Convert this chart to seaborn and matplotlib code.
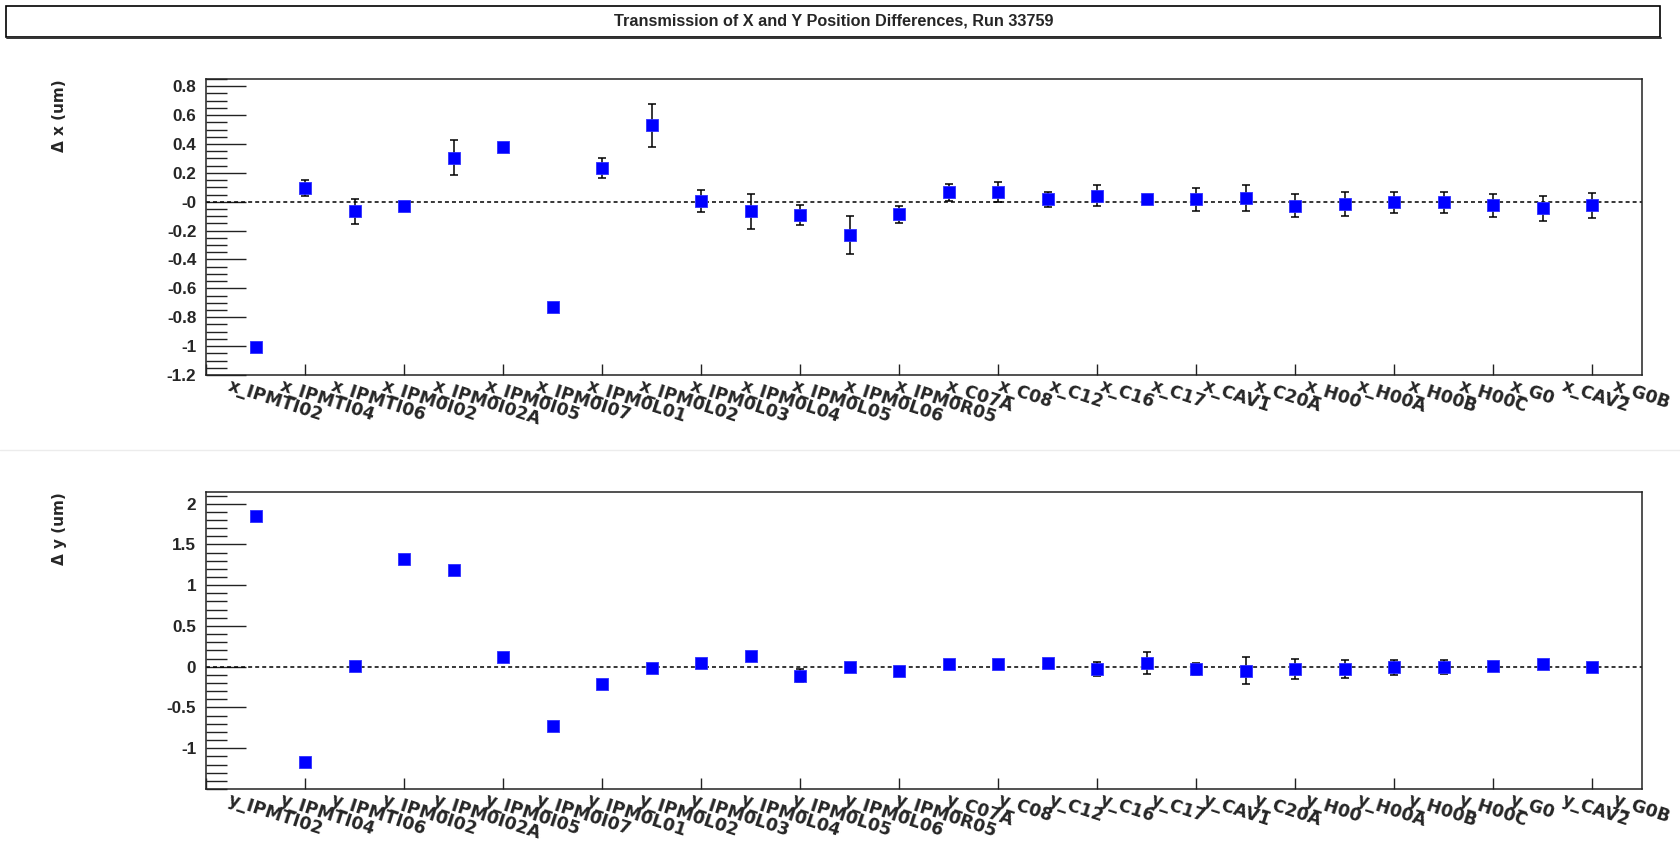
import numpy as np
import pandas as pd
import matplotlib
matplotlib.use("Agg")
import matplotlib.pyplot as plt
import seaborn as sns
from matplotlib.ticker import MultipleLocator, FixedLocator, FuncFormatter
from matplotlib.patches import Rectangle
from matplotlib.lines import Line2D
from matplotlib.transforms import blended_transform_factory

# monitor names (same order for x and y)
names = ["IPMTI02", "IPMTI04", "IPMTI06", "IPM0I02", "IPM0I02A", "IPM0I05", "IPM0I07",
         "IPM0L01", "IPM0L02", "IPM0L03", "IPM0L04", "IPM0L05", "IPM0L06", "IPM0R05",
         "C07A", "C08", "C12", "C16", "C17", "CAV1", "C20A", "H00", "H00A", "H00B",
         "H00C", "G0", "CAV2", "G0B"]

dx = [-1.007, 0.098, -0.067, -0.028, 0.305, 0.378, -0.729, 0.234, 0.529, 0.007,
      -0.067, -0.092, -0.232, -0.087, 0.066, 0.069, 0.016, 0.043, 0.016, 0.016,
      0.027, -0.028, -0.016, -0.005, -0.005, -0.025, -0.046, -0.025]
dx_err = [0.02, 0.055, 0.085, 0.02, 0.12, 0.02, 0.02, 0.07, 0.15, 0.075,
          0.12, 0.068, 0.13, 0.057, 0.06, 0.07, 0.05, 0.07, 0.02, 0.08,
          0.09, 0.08, 0.083, 0.073, 0.07, 0.08, 0.085, 0.085]

dy = [1.848, -1.172, 0.005, 1.317, 1.186, 0.115, -0.731, -0.216, -0.012, 0.045,
      0.135, -0.11, -0.008, -0.049, 0.029, 0.029, 0.045, -0.028, 0.045, -0.028,
      -0.049, -0.028, -0.028, -0.008, -0.008, 0.009, 0.029, -0.008]
dy_err = [0.03, 0.03, 0.03, 0.03, 0.03, 0.03, 0.03, 0.03, 0.03, 0.03,
          0.03, 0.08, 0.03, 0.03, 0.03, 0.03, 0.03, 0.09, 0.14, 0.075,
          0.167, 0.12, 0.11, 0.09, 0.085, 0.03, 0.03, 0.03]

title = "Transmission of X and Y Position Differences, Run 33759"

sns.set_style("white")
plt.rcParams["font.family"] = ["Liberation Sans", "DejaVu Sans"]
plt.rcParams["font.weight"] = "bold"
plt.rcParams["axes.unicode_minus"] = False

W, H = 1681, 843
fig = plt.figure(figsize=(W / 100, H / 100), dpi=100)
fig.patch.set_facecolor("white")


def draw_panel(ax, prefix, vals, errs, ylim, major, minor, ylabel):
    n = len(names)
    df = pd.DataFrame({"pos": np.arange(1, n + 1), "val": vals, "err": errs})

    ax.axhline(0, color="black", lw=1.1, ls=(0, (2.6, 2.0)), zorder=1)
    ax.errorbar(df["pos"], df["val"], yerr=df["err"], fmt="none", ecolor="black",
                elinewidth=1.1, capsize=2.9, capthick=1.1, zorder=2)
    sns.scatterplot(data=df, x="pos", y="val", marker="s", s=78, color="#0000ff",
                    edgecolor="#3030ff", linewidth=0.6, legend=False, ax=ax, zorder=3)

    ax.set_xlim(0, n + 1)
    ax.set_ylim(*ylim)
    ax.set_xlabel("")
    ax.set_ylabel(ylabel, loc="top", fontsize=11, fontweight="bold",
                  family=["DejaVu Sans"])
    ax.yaxis.set_label_coords(-0.097, 1.0)

    for sp in ax.spines.values():
        sp.set_visible(True)
        sp.set_linewidth(1.1)
        sp.set_color("#222222")

    ax.xaxis.set_major_locator(MultipleLocator(2))
    ax.tick_params(axis="x", which="major", direction="in", length=7.7, width=1.0,
                   bottom=True, top=False, labelbottom=False, color="#222222")
    ax.yaxis.set_major_locator(FixedLocator(major))
    ax.yaxis.set_minor_locator(MultipleLocator(minor))
    zero_lbl = "-0" if prefix == "x" else "0"
    ax.yaxis.set_major_formatter(FuncFormatter(
        lambda v, _: zero_lbl if abs(v) < 1e-9 else f"{v:g}"))
    ax.tick_params(axis="y", which="major", direction="in", length=28.8, width=1.0,
                   left=True, right=False, labelsize=12.3, pad=7, color="#222222")
    ax.tick_params(axis="y", which="minor", direction="in", length=14.8, width=1.0,
                   left=True, right=False, color="#222222")
    for lbl in ax.get_yticklabels():
        lbl.set_fontweight("bold")

    # bin labels of the frame histogram (28 bins over 0..29)
    trans = blended_transform_factory(ax.transData, ax.transAxes)
    step = (n + 1) / n
    for i, name in enumerate(names):
        ax.text((i + 0.5) * step, -0.007, f"{prefix}_{name}", transform=trans,
                rotation=-18, rotation_mode="anchor", ha="left", va="top",
                fontsize=12.4, fontweight="bold", family=["DejaVu Sans"],
                clip_on=False)


ax1 = fig.add_axes([206 / W, 1 - 375 / H, 1436 / W, 296 / H])
ax2 = fig.add_axes([206 / W, 1 - 789 / H, 1436 / W, 297 / H])

draw_panel(ax1, "x", dx, dx_err, (-1.2, 0.85),
           np.round(np.arange(-1.2, 0.81, 0.2), 1), 0.05, "Δ x (um)")
draw_panel(ax2, "y", dy, dy_err, (-1.5, 2.143),
           np.arange(-1.0, 2.01, 0.5), 0.1, "Δ y (um)")

# title pave
fig.add_artist(Rectangle((6 / W, 1 - 37 / H), 1654 / W, 31 / H, transform=fig.transFigure,
                         fill=False, lw=1.2, ec="black"))
fig.add_artist(Line2D([7 / W, 1661 / W], [1 - 38 / H, 1 - 38 / H], color="#333333",
                      lw=1.4, transform=fig.transFigure))
fig.text(833.5 / W, 1 - 21.5 / H, title, ha="center", va="center",
         fontsize=11.7, fontweight="bold")

# pad separator
fig.add_artist(Line2D([0, 1], [1 - 450 / H, 1 - 450 / H], color="#ececec", lw=1.0,
                      transform=fig.transFigure))

fig.savefig("out.png", dpi=100)
